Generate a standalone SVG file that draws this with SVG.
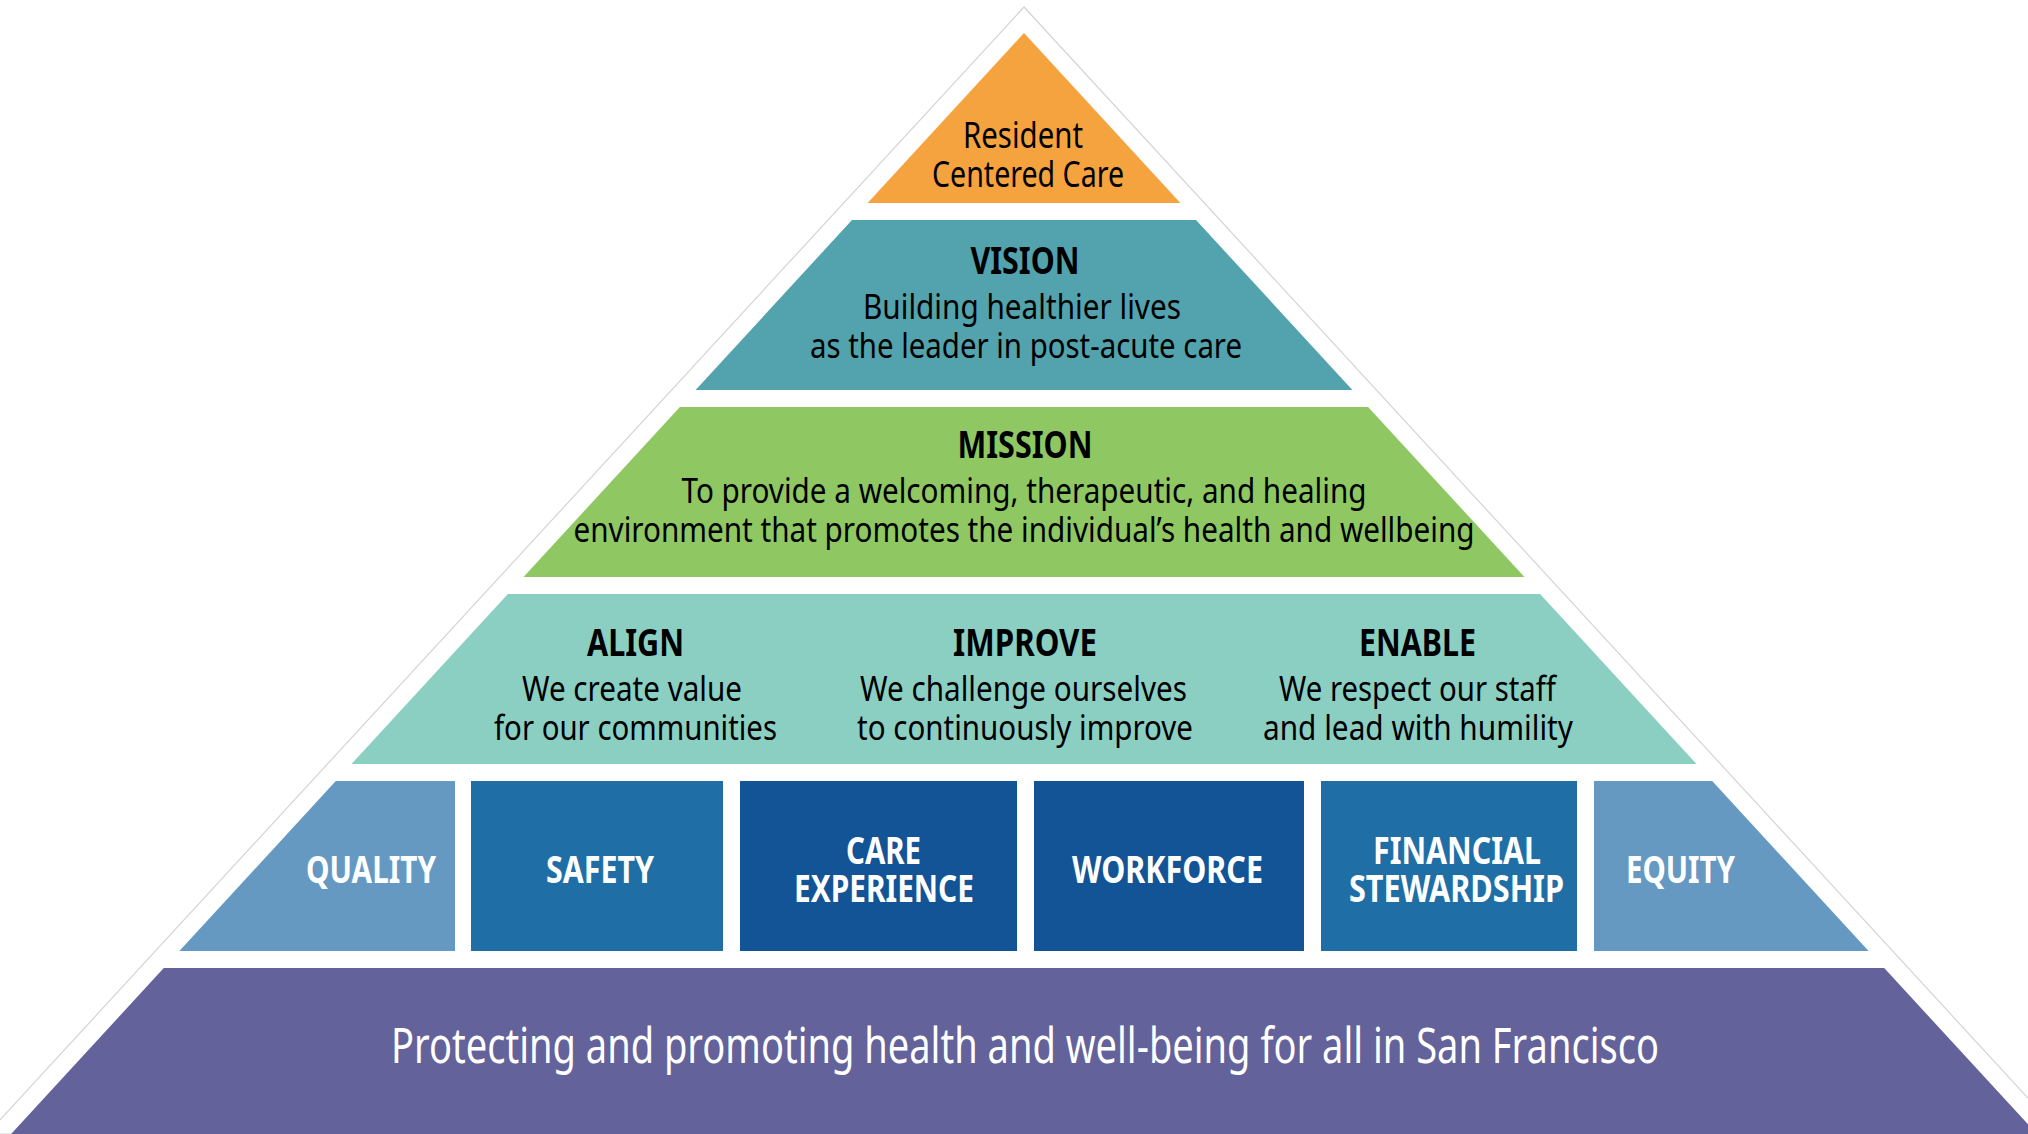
<svg xmlns="http://www.w3.org/2000/svg" width="2028" height="1134" viewBox="0 0 2028 1134">
<style>
text{font-family:"Noto Sans","Liberation Sans",sans-serif;text-anchor:middle}
.h{font-weight:bold;font-size:37px;fill:#000}
.b{font-size:35px;fill:#000}
.o{font-size:36px;fill:#000}
.p{font-weight:bold;font-size:38px;fill:#fff}
.f{font-size:50px;fill:#fff}
</style>
<rect width="2028" height="1134" fill="#fff"/>
<polygon points="1024,7 -13,1134 2061,1134" fill="#fff" stroke="#d4d4d4" stroke-width="1.2"/>
<g id="connectors"/>
<g id="resident-centered-care">
<polygon points="1024,33 867.6,203 1180.4,203" fill="#F5A33E"/>
<text class="o" x="1023" y="148" textLength="120" lengthAdjust="spacingAndGlyphs">Resident</text>
<text class="o" x="1028" y="187" textLength="192" lengthAdjust="spacingAndGlyphs">Centered Care</text>
</g>
<g id="vision">
<polygon points="852,220 1196,220 1352.4,390 695.6,390" fill="#52A3AD"/>
<text class="h" x="1025" y="274" textLength="109" lengthAdjust="spacingAndGlyphs">VISION</text>
<text class="b" x="1022" y="319" textLength="318" lengthAdjust="spacingAndGlyphs">Building healthier lives</text>
<text class="b" x="1026" y="358" textLength="432" lengthAdjust="spacingAndGlyphs">as the leader in post-acute care</text>
</g>
<g id="mission">
<polygon points="679.9,407 1368.1,407 1524.5,577 523.5,577" fill="#8FC862"/>
<text class="h" x="1025" y="458" textLength="135" lengthAdjust="spacingAndGlyphs">MISSION</text>
<text class="b" x="1024" y="503" textLength="685" lengthAdjust="spacingAndGlyphs">To provide a welcoming, therapeutic, and healing</text>
<text class="b" x="1024" y="542" textLength="901" lengthAdjust="spacingAndGlyphs">environment that promotes the individual’s health and wellbeing</text>
</g>
<g id="values">
<polygon points="507.9,594 1540.1,594 1696.5,764 351.5,764" fill="#8BCFC3"/>
<g id="align">
<text class="h" x="635.5" y="656" textLength="97" lengthAdjust="spacingAndGlyphs">ALIGN</text>
<text class="b" x="632" y="701" textLength="220" lengthAdjust="spacingAndGlyphs">We create value</text>
<text class="b" x="635.5" y="740" textLength="283" lengthAdjust="spacingAndGlyphs">for our communities</text>
</g>
<g id="improve">
<text class="h" x="1025" y="656" textLength="144" lengthAdjust="spacingAndGlyphs">IMPROVE</text>
<text class="b" x="1023.5" y="701" textLength="327" lengthAdjust="spacingAndGlyphs">We challenge ourselves</text>
<text class="b" x="1025" y="740" textLength="336" lengthAdjust="spacingAndGlyphs">to continuously improve</text>
</g>
<g id="enable">
<text class="h" x="1417.5" y="656" textLength="117" lengthAdjust="spacingAndGlyphs">ENABLE</text>
<text class="b" x="1417.5" y="701" textLength="277" lengthAdjust="spacingAndGlyphs">We respect our staff</text>
<text class="b" x="1418" y="740" textLength="310" lengthAdjust="spacingAndGlyphs">and lead with humility</text>
</g>
</g>
<g id="quality">
<polygon points="335.8,781 455,781 455,951 179.4,951" fill="#6699C2"/>
<text class="p" x="371" y="883" textLength="130" lengthAdjust="spacingAndGlyphs">QUALITY</text>
</g>
<g id="safety">
<rect x="471" y="781" width="252" height="170" fill="#1F6FA6"/>
<text class="p" x="600" y="883" textLength="108" lengthAdjust="spacingAndGlyphs">SAFETY</text>
</g>
<g id="care-experience">
<rect x="740" y="781" width="277" height="170" fill="#125496"/>
<text class="p" x="883.5" y="864" textLength="75" lengthAdjust="spacingAndGlyphs">CARE</text>
<text class="p" x="884" y="902" textLength="180" lengthAdjust="spacingAndGlyphs">EXPERIENCE</text>
</g>
<g id="workforce">
<rect x="1034" y="781" width="270" height="170" fill="#125496"/>
<text class="p" x="1167.5" y="883" textLength="191" lengthAdjust="spacingAndGlyphs">WORKFORCE</text>
</g>
<g id="financial-stewardship">
<rect x="1321" y="781" width="256" height="170" fill="#1F6FA6"/>
<text class="p" x="1457" y="864" textLength="168" lengthAdjust="spacingAndGlyphs">FINANCIAL</text>
<text class="p" x="1456.5" y="902" textLength="215" lengthAdjust="spacingAndGlyphs">STEWARDSHIP</text>
</g>
<g id="equity">
<polygon points="1594,781 1712.2,781 1868.6,951 1594,951" fill="#6699C2"/>
<text class="p" x="1680.5" y="883" textLength="109" lengthAdjust="spacingAndGlyphs">EQUITY</text>
</g>
<g id="foundation">
<polygon points="163.8,968 1884.2,968 2036.9,1134 11.1,1134" fill="#63629A"/>
<text class="f" x="1025" y="1063" textLength="1268" lengthAdjust="spacingAndGlyphs">Protecting and promoting health and well-being for all in San Francisco</text>
</g>
</svg>
